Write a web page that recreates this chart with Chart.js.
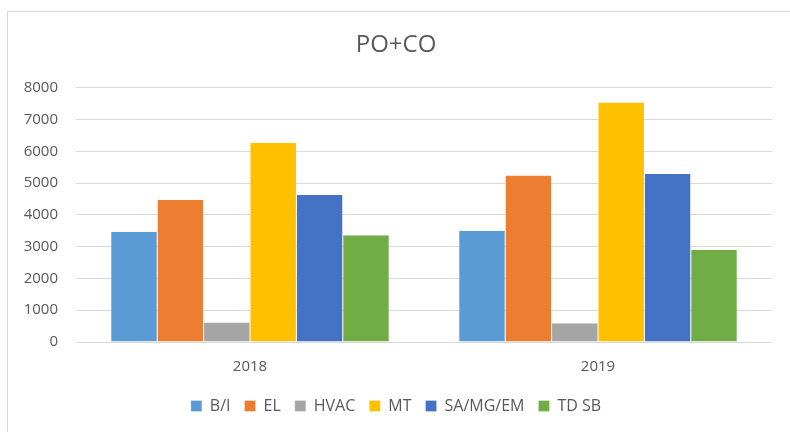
<!DOCTYPE html>
<html>
<head>
<meta charset="utf-8">
<script src="https://cdn.jsdelivr.net/npm/chart.js@4.4.0/dist/chart.umd.min.js"></script>
<style>
  html, body { margin: 0; padding: 0; background: #fff; overflow: hidden; }
  #frame {
    position: absolute; left: 7px; top: 11px; width: 900px; height: 500px;
    border-left: 1px solid #d9d9d9; border-top: 1px solid #d9d9d9;
  }
  #grafico { position: absolute; left: 0; top: 0; }
</style>
</head>
<body>
<div id="frame"></div>
<canvas id="grafico" width="790" height="432"></canvas>
<script>
// dados
const anos = ["2018", "2019"];
const series = ["B/I", "EL", "HVAC", "MT", "SA/MG/EM", "TD SB"];
const valBI = [3470, 3500];
const valEL = [4480, 5240];
const valHVAC = [610, 590];
const valMT = [6270, 7540];
const valSA = [4630, 5290];
const valTD = [3360, 2900];
const cores = ["#5B9BD5", "#ED7D31", "#A5A5A5", "#FFC000", "#4472C4", "#70AD47"];
const yTicks = [0, 1000, 2000, 3000, 4000, 5000, 6000, 7000, 8000];

const valores = [valBI, valEL, valHVAC, valMT, valSA, valTD];
const fonte = "'Open Sans', 'Liberation Sans', sans-serif";
const cinza = "#595959";

const ctx = document.getElementById("grafico").getContext("2d");
new Chart(ctx, {
  type: "bar",
  data: {
    labels: anos,
    datasets: series.map((nome, i) => ({
      label: nome,
      data: valores[i],
      backgroundColor: cores[i],
      borderColor: "#ffffff",
      borderWidth: { left: 0.5, right: 0.5, top: 0, bottom: 0 },
      categoryPercentage: 0.8,
      barPercentage: 1.0
    }))
  },
  options: {
    responsive: false,
    animation: false,
    layout: { padding: { left: 20, right: 18, top: 31, bottom: 8 } },
    plugins: {
      title: {
        display: true,
        text: "PO+CO",
        color: cinza,
        font: { family: fonte, size: 24, weight: "normal" },
        padding: { top: 0, bottom: 28 }
      },
      legend: {
        position: "bottom",
        labels: {
          color: cinza,
          font: { family: fonte, size: 16 },
          boxWidth: 11,
          boxHeight: 11,
          padding: 14
        }
      },
      tooltip: { enabled: false }
    },
    scales: {
      x: {
        grid: { display: false },
        border: { display: false },
        ticks: { color: cinza, font: { family: fonte, size: 15 }, padding: 8 }
      },
      y: {
        min: 0,
        max: 8000,
        afterBuildTicks: s => { s.ticks = yTicks.map(v => ({ value: v })); },
        afterFit: s => { s.width = 56; },
        grid: { color: "#d9d9d9", lineWidth: 1, drawTicks: false },
        border: { display: false },
        ticks: {
          color: cinza,
          font: { family: fonte, size: 15 },
          padding: 18,
          callback: v => String(v)
        }
      }
    }
  }
});
</script>
</body>
</html>
